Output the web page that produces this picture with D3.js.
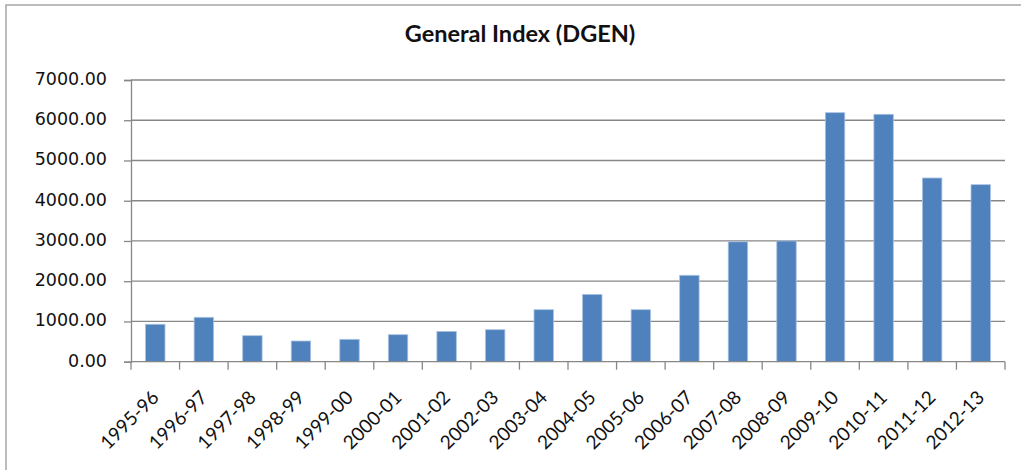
<!DOCTYPE html>
<html>
<head>
<meta charset="utf-8">
<script src="https://cdn.jsdelivr.net/npm/d3@7"></script>
<style>
  html, body { margin: 0; padding: 0; background: #fff; }
  svg { display: block; }
</style>
</head>
<body>
<svg id="chart" width="1021" height="470"></svg>
<script>
const categories = ["1995-96","1996-97","1997-98","1998-99","1999-00","2000-01","2001-02","2002-03","2003-04","2004-05","2005-06","2006-07","2007-08","2008-09","2009-10","2010-11","2011-12","2012-13"];
const values = [930, 1103, 646, 514, 556, 671, 753, 795, 1292, 1673, 1292, 2147, 2980, 3000, 6188, 6148, 4565, 4399];
const yTicks = [0, 1000, 2000, 3000, 4000, 5000, 6000, 7000];
const title = "General Index (DGEN)";

const svg = d3.select("#chart");

// chart frame
svg.append("rect")
  .attr("x", 6).attr("y", 5)
  .attr("width", 1100).attr("height", 600)
  .attr("fill", "#fff")
  .attr("stroke", "#a6a6a6")
  .attr("stroke-width", 1.5);

const plotL = 131, plotR = 1005, plotT = 80, plotB = 361.7;

const x = d3.scaleBand().domain(categories).range([plotL, plotR])
  .paddingInner(0.6).paddingOuter(0.3);
const y = d3.scaleLinear().domain([0, 7000]).range([plotB, plotT]);

// gridlines
svg.append("g").selectAll("line").data(yTicks.filter(d => d > 0)).join("line")
  .attr("x1", plotL).attr("x2", plotR)
  .attr("y1", d => y(d)).attr("y2", d => y(d))
  .attr("stroke", "#878787").attr("stroke-width", 1.3);

// bars
svg.append("g").selectAll("rect").data(values).join("rect")
  .attr("x", (d, i) => x(categories[i]))
  .attr("width", x.bandwidth())
  .attr("y", d => y(d))
  .attr("height", d => y(0) - y(d))
  .attr("fill", "#4f81bd")
  .attr("stroke", "#a9c3e2")
  .attr("stroke-width", 0.8);

// y axis
const yAxis = d3.axisLeft(y).tickValues(yTicks).tickSize(7).tickPadding(17)
  .tickFormat(d => d3.format(".2f")(d));
const gy = svg.append("g").attr("transform", `translate(${plotL},0)`).call(yAxis);
gy.select(".domain").attr("stroke", "#878787").attr("stroke-width", 1.3);
gy.selectAll(".tick line").attr("stroke", "#878787").attr("stroke-width", 1.3);
gy.selectAll(".tick text")
  .attr("font-family", "'DejaVu Sans', Verdana, sans-serif")
  .attr("font-size", 17.5)
  .attr("fill", "#111")
  .attr("dy", "0.25em");

// x axis (ticks at band boundaries)
const boundaries = categories.map(c => x(c) - x.step() * 0.3).concat([plotR]);
svg.append("line")
  .attr("x1", plotL).attr("x2", plotR).attr("y1", plotB).attr("y2", plotB)
  .attr("stroke", "#878787").attr("stroke-width", 1.3);
svg.append("g").selectAll("line").data(boundaries).join("line")
  .attr("x1", d => d).attr("x2", d => d)
  .attr("y1", plotB).attr("y2", plotB + 8)
  .attr("stroke", "#878787").attr("stroke-width", 1.3);

svg.append("g").selectAll("text").data(categories).join("text")
  .attr("transform", d => `translate(${x(d) + x.bandwidth() / 2},394) rotate(-45)`)
  .attr("text-anchor", "end")
  .attr("dy", "0.35em")
  .attr("font-family", "Lato, 'Open Sans', sans-serif")
  .attr("font-size", 19)
  .attr("fill", "#111")
  .text(d => d);

// title
svg.append("text")
  .attr("x", 520).attr("y", 42)
  .attr("text-anchor", "middle")
  .attr("font-family", "Lato, 'Open Sans', sans-serif")
  .attr("font-weight", "bold")
  .attr("font-size", 23.5)
  .attr("fill", "#111")
  .text(title);
</script>
</body>
</html>
